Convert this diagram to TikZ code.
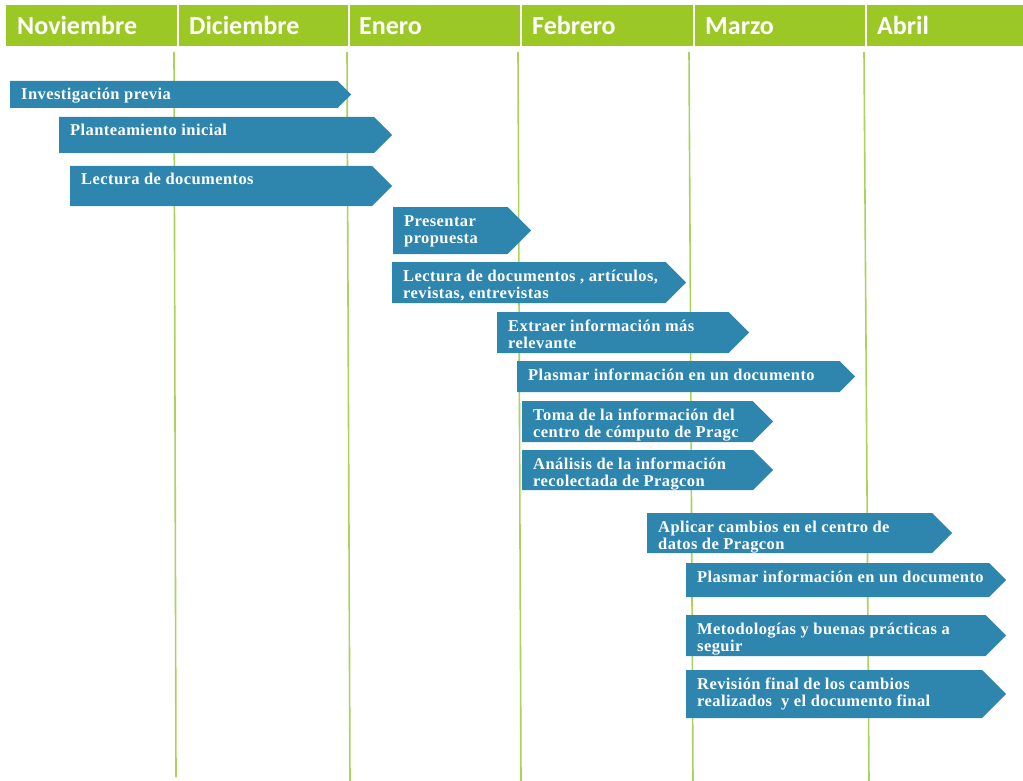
\documentclass[tikz,border=0pt]{standalone}
\usepackage{fontspec}
\setmainfont{Liberation Serif}
\newfontfamily\headfont{Carlito}
\newfontfamily\tareafont[LetterSpace=2.5]{Liberation Serif}
\usetikzlibrary{positioning}
\definecolor{ganttgreen}{HTML}{9BC825}
\definecolor{gridgreen}{HTML}{AAD25C}
\definecolor{ganttblue}{HTML}{2E85AD}

% task bar: name, left, top, bottom, tip, text
\newcommand{\tarea}[6]{%
  \fill[ganttblue] (#2,#3) -- ({#5-(#4-#3)/2},#3) -- (#5,{(#3+#4)/2}) -- ({#5-(#4-#3)/2},#4) -- (#2,#4) -- cycle;
  \node[tarea] (#1) at ({#2+11},{#3+19}) {\begin{tabular}[t]{@{}l@{}}#6\end{tabular}};
}

\begin{document}
\begin{tikzpicture}[
    x=1pt, y=-1pt,
    mes/.style={anchor=base west, inner sep=0pt, text=white, font=\headfont\bfseries\fontsize{26}{26}\selectfont},
    tarea/.style={anchor=base west, inner sep=0pt, text=white, font=\tareafont\bfseries\fontsize{16.5}{17}\selectfont},
    rejilla/.style={draw=gridgreen, line width=1.6pt}
]
    \useasboundingbox (0,0) rectangle (1023,781);

    % Grid lines
    \foreach \xa/\xb/\ye in {174/176/777, 347/350/781, 518/521/781, 689/693/781, 864/869/781}
        \draw[rejilla] (\xa,52) -- (\xb,\ye);

    % Header
    \fill[ganttgreen] (6,5) rectangle (1023,46);
    \foreach \xs in {178, 349, 521, 694, 866}
        \draw[white, line width=2pt] (\xs,5) -- (\xs,46);
    \node[mes] (nov) at (17,35) {Noviembre};
    \node[mes] (dic) at (189,35) {Diciembre};
    \node[mes] (ene) at (359,35) {Enero};
    \node[mes] (feb) at (532,35) {Febrero};
    \node[mes] (mar) at (705,35) {Marzo};
    \node[mes] (abr) at (877,35) {Abril};

    % Tasks
    \tarea{t1}{10}{81}{108}{351}{Investigación previa}
    \tarea{t2}{59}{117}{153}{392}{Planteamiento inicial}
    \tarea{t3}{70}{166}{206}{392}{Lectura de documentos}
    \tarea{t4}{393}{207}{254}{531}{Presentar\\propuesta}
    \tarea{t5}{392}{262}{303}{686}{Lectura de documentos , artículos,\\revistas, entrevistas}
    \tarea{t6}{497}{312}{353}{749}{Extraer información más\\relevante}
    \tarea{t7}{517}{361}{392}{855}{Plasmar información en un documento}
    \tarea{t8}{522}{401}{442}{773}{Toma de la información del\\centro de cómputo de Pragc}
    \tarea{t9}{522}{450}{490}{773}{Análisis de la información\\recolectada de Pragcon}
    \tarea{t10}{647}{513}{553}{952}{Aplicar cambios en el centro de\\datos de Pragcon}
    \tarea{t11}{686}{563}{597}{1006}{Plasmar información en un documento}
    \tarea{t12}{686}{615}{656}{1006}{Metodologías y buenas prácticas a\\seguir}
    \tarea{t13}{686}{670}{718}{1006}{Revisión final de los cambios\\realizados\ \ y el documento final}
\end{tikzpicture}
\end{document}
